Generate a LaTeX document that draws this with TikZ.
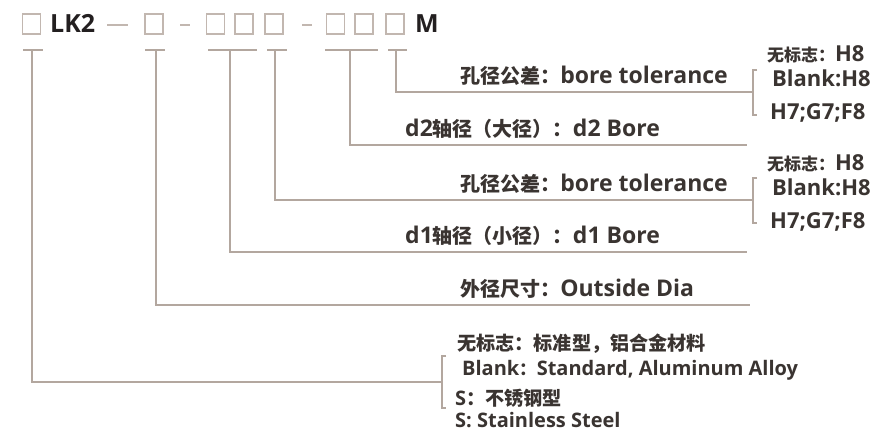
\documentclass[tikz,border=0pt]{standalone}
\usepackage{fontspec}
\setmainfont{Open Sans}
\newfontfamily\zh{Noto Sans CJK SC}[Scale=0.87]
\definecolor{txt}{HTML}{3A3431}
\definecolor{ink}{HTML}{231F20}
\definecolor{rulec}{HTML}{B3A79F}
\definecolor{boxc}{HTML}{C2B7B0}
\newcommand{\zhs}[1]{{\zh\fontsize{19.5}{20}\selectfont #1}}
\newcommand{\zhb}[1]{{\zh\fontsize{22}{22}\selectfont #1}}
\begin{document}
\begin{tikzpicture}[x=1pt,y=-1pt,
  sq/.style={draw=boxc,line width=1.3pt,minimum width=18pt,minimum height=20pt,inner sep=0pt},
  lead/.style={draw=rulec,line width=1.4pt},
  dashl/.style={draw=boxc,line width=1.4pt},
  lab/.style={text=txt,inner sep=0pt,anchor=base west,font=\fontsize{23}{23}\selectfont\bfseries},
  sml/.style={text=txt,inner sep=0pt,anchor=base west,font=\fontsize{22}{22}\selectfont\bfseries},
  btm/.style={text=txt,inner sep=0pt,anchor=base west,font=\fontsize{20}{20}\selectfont\bfseries},
  code/.style={text=ink,inner sep=0pt,anchor=base west,font=\fontsize{25}{25}\selectfont\bfseries}]
\useasboundingbox[fill=white] (0,0) rectangle (871,428);

% top code row
\node[sq] (b0) at (31.5,24) {};
\node[code] (lk) at (50,33) {LK2};
\draw[dashl] (107,25) -- (128,25);
\node[sq] (b1) at (154,24) {};
\draw[dashl] (180,25) -- (190,25);
\node[sq] (b2) at (215.5,24) {};
\node[sq] (b3) at (244,24) {};
\node[sq] (b4) at (274,24) {};
\draw[dashl] (302,25) -- (312,25);
\node[sq] (b5) at (335.5,24) {};
\node[sq] (b6) at (364,24) {};
\node[sq] (b7) at (395,24) {};
\node[code] (m) at (415,33) {M};

% underlines
\draw[lead] (23,50) -- (43,50);
\draw[lead] (145,50) -- (165,50);
\draw[lead] (208,50) -- (257,50);
\draw[lead] (267,50) -- (287,50);
\draw[lead] (325,50) -- (378,50);
\draw[lead] (388,50) -- (407,50);

\coordinate (t0) at (32,50);
\coordinate (t1) at (156,50);
\coordinate (t2) at (230,50);
\coordinate (t3) at (275,50);
\coordinate (t4) at (350,50);
\coordinate (t5) at (396,50);

% bracket / end points
\coordinate (k1) at (753,92);
\coordinate (e2) at (747,145);
\coordinate (k2) at (753,200);
\coordinate (e1) at (747,252);
\coordinate (eo) at (750,305);
\coordinate (k3) at (442,382);

\draw[lead] (t5) |- (k1);
\draw[lead] (t4) |- (e2);
\draw[lead] (t3) |- (k2);
\draw[lead] (t2) |- (e1);
\draw[lead] (t1) |- (eo);
\draw[lead] (t0) |- (k3);

\draw[lead] (757,70) -- (753,70) -- (753,115) -- (757,115);
\draw[lead] (757,178) -- (753,178) -- (753,223) -- (757,223);
\draw[lead] (446,356) -- (442,356) -- (442,408) -- (446,408);

% labels
\node[lab] (tol1) at (460,83.5) {{\zh 孔径公差：}bore tolerance};
\node[lab] (d2) at (405,136.5) {d2{\zh 轴径（大径）：}d2 Bore};
\node[lab] (tol2) at (460,191.5) {{\zh 孔径公差：}bore tolerance};
\node[lab] (d1) at (405,243.5) {d1{\zh 轴径（小径）：}d1 Bore};
\node[lab] (od) at (460,296.5) {{\zh 外径尺寸：}Outside Dia};

\node[sml] (r1a) at (767,62) {\zhs{无标志：}H8};
\node[sml] (r1b) at (772,87) {Blank:H8};
\node[sml] (r1c) at (770,120) {H7;G7;F8};
\node[sml] (r2a) at (767,170) {\zhs{无标志：}H8};
\node[sml] (r2b) at (772,195) {Blank:H8};
\node[sml] (r2c) at (770,228) {H7;G7;F8};

\node[btm] (s1) at (457,350) {\zhb{无标志：标准型，铝合金材料}};
\node[btm] (s2) at (462,375) {Blank{\zh ：}Standard, Aluminum Alloy};
\node[btm] (s3) at (455,405) {S\zhb{：不锈钢型}};
\node[btm] (s4) at (455,427) {S: Stainless Steel};
\end{tikzpicture}
\end{document}
